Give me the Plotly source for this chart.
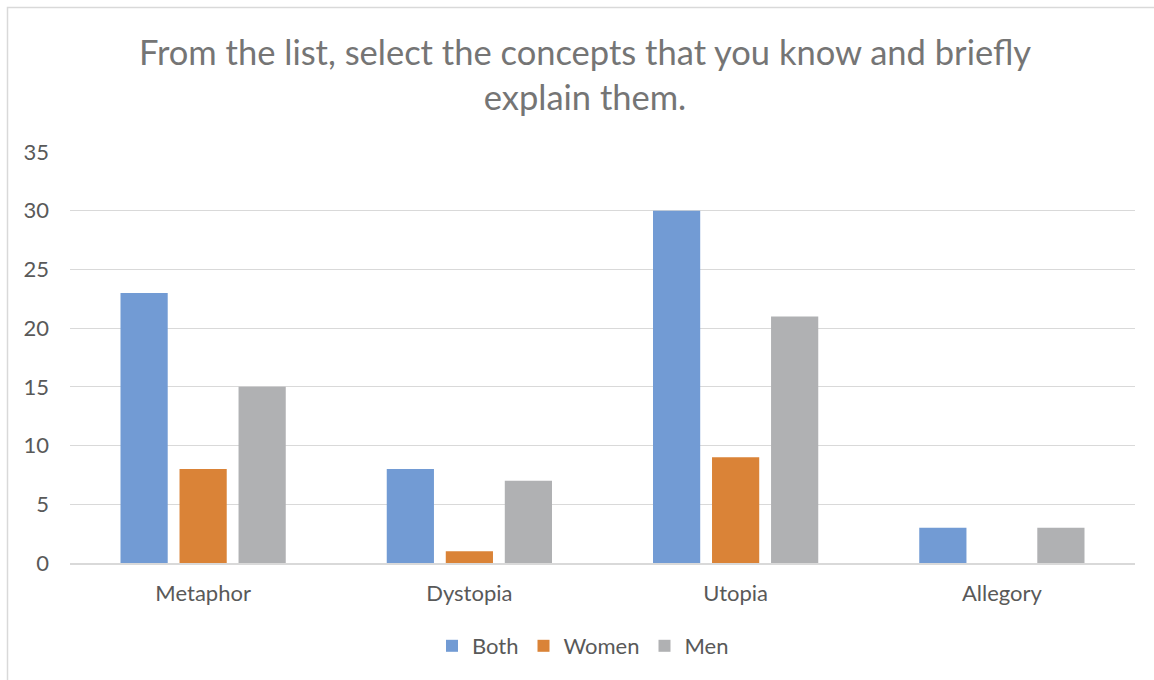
import plotly.graph_objects as go

# Survey responses per concept
concepts = ["Metaphor", "Dystopia", "Utopia", "Allegory"]
both = [23, 8, 30, 3]
women = [8, 1, 9, 0]
men = [15, 7, 21, 3]
y_ticks = [0, 5, 10, 15, 20, 25, 30, 35]

FONT = "Lato"
TEXT = "#595959"
GRID = "#d9d9d9"

fig = go.Figure()
fig.add_trace(go.Bar(name="Both", x=concepts, y=both, marker=dict(color="#729bd4", line=dict(width=0))))
fig.add_trace(go.Bar(name="Women", x=concepts, y=women, marker=dict(color="#da8337", line=dict(width=0))))
fig.add_trace(go.Bar(name="Men", x=concepts, y=men, marker=dict(color="#b0b1b3", line=dict(width=0))))

# plot area: x 70..1135, y 152..563
L, R, T, B = 70, 19, 152, 117
W, H = 1154, 680
pw, ph = W - L - R, H - T - B

def px_x(p):
    return (p - L) / pw

def px_y(p):
    return (H - B - p) / ph

fig.update_layout(
    width=W, height=H,
    margin=dict(l=L, r=R, t=T, b=B),
    paper_bgcolor="white", plot_bgcolor="white",
    font=dict(family=FONT, color=TEXT, size=22),
    barmode="group", bargap=0.335, bargroupgap=0.2,
    title=dict(
        text="From the list, select the concepts that you know and briefly<br>explain them.",
        x=585 / W, xanchor="center",
        y=1 - 65 / H, yanchor="middle",
        font=dict(family=FONT, size=34.5, color="#757575"),
    ),
    xaxis=dict(
        showgrid=False, showline=True, linecolor=GRID, linewidth=1.5,
        tickfont=dict(size=22, color=TEXT), ticks="", ticklabelstandoff=10,
    ),
    yaxis=dict(
        range=[0, 35], tickvals=y_ticks, showgrid=True, gridcolor=GRID, gridwidth=1,
        zeroline=False, showline=False, ticks="",
        tickfont=dict(size=22, color=TEXT), ticklabelstandoff=20,
    ),
    legend=dict(
        orientation="h", x=px_x(583), xanchor="center",
        y=px_y(646), yanchor="middle",
        font=dict(size=22, color=TEXT), itemwidth=30,
    ),
    showlegend=True,
    shapes=[dict(
        type="rect", xref="paper", yref="paper", layer="below",
        x0=px_x(7.5), x1=px_x(1170), y0=px_y(700), y1=px_y(7.5),
        line=dict(color=GRID, width=1.5), fillcolor="rgba(0,0,0,0)",
    )],
)

fig.write_html("out.html")
